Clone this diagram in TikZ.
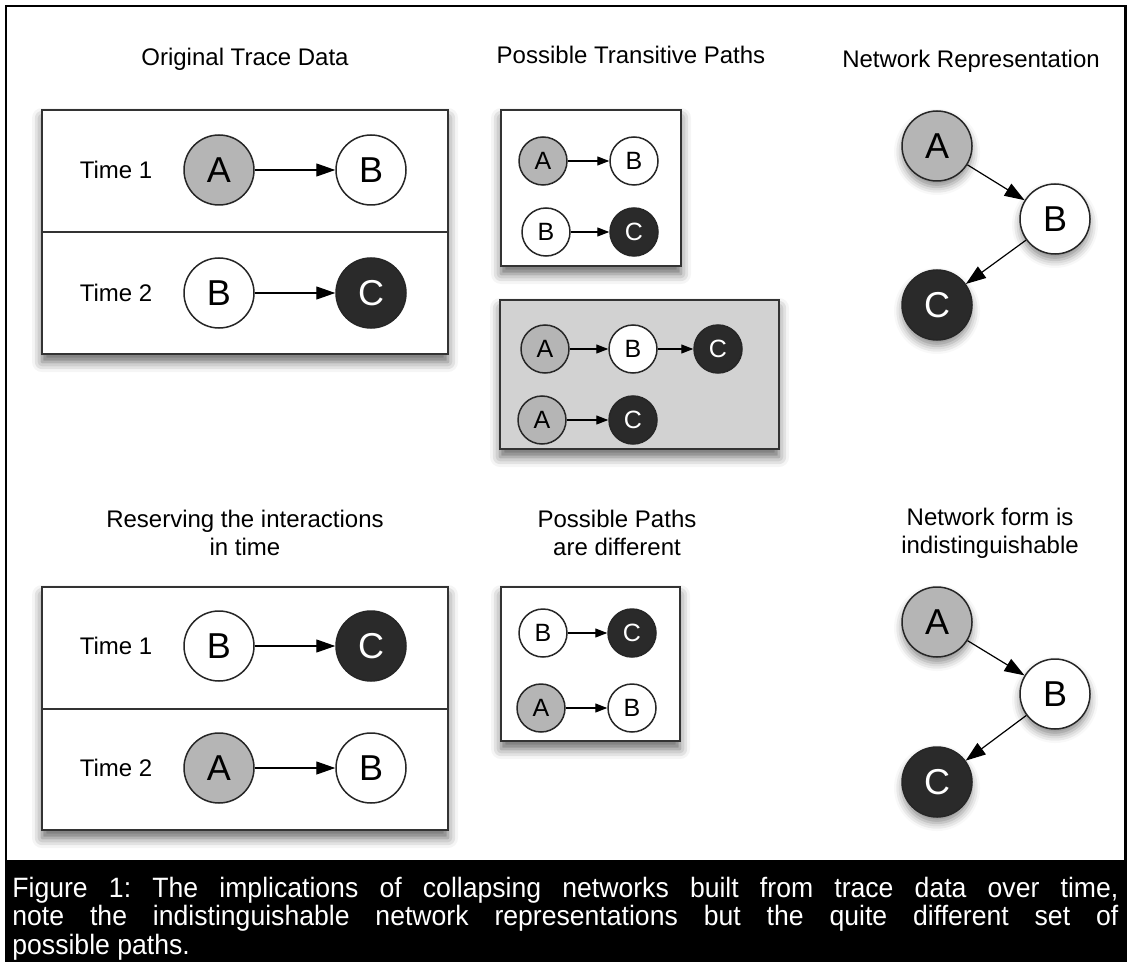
\documentclass[tikz,border=0pt]{standalone}
\usepackage{fontspec}
\setmainfont{Liberation Sans}
\newfontfamily\capfont[FakeStretch=0.95]{Liberation Sans}
\usetikzlibrary{arrows.meta,shadows.blur}
\definecolor{actorgray}{HTML}{B5B5B5}
\definecolor{actordark}{HTML}{2A2A2A}
\definecolor{panelgray}{HTML}{D2D2D2}
\definecolor{edgegray}{HTML}{333333}
\tikzset{
  heading/.style={font=\fontsize{12}{14}\selectfont,align=center},
  timelabel/.style={font=\fontsize{12}{14}\selectfont},
  panel/.style={draw=edgegray,line width=1pt,fill=white,
    blur shadow={shadow xshift=0pt,shadow yshift=-4pt,shadow blur radius=5pt,shadow opacity=60}},
  actor/.style={circle,draw=black!85,line width=0.75pt,inner sep=0pt},
  big/.style={actor,minimum size=35pt,font=\fontsize{18}{18}\selectfont},
  small/.style={actor,minimum size=24pt,font=\fontsize{12.5}{12.5}\selectfont},
  actA/.style={fill=actorgray},
  actB/.style={fill=white},
  actC/.style={fill=actordark,text=white},
  netshadow/.style={blur shadow={shadow xshift=0pt,shadow yshift=-3pt,shadow blur radius=4pt,shadow opacity=45}},
  link/.style={-{Triangle[length=9.5pt,width=6.5pt]},line width=0.6pt},
  slink/.style={-{Triangle[length=6pt,width=4.5pt]},line width=0.6pt},
  nlink/.style={-{Triangle[length=10pt,width=7pt]},line width=0.6pt}
}
\begin{document}
\begin{tikzpicture}[x=0.5pt,y=-0.5pt]
  \useasboundingbox (0,0) rectangle (1127,962);
  % frame and caption band
  \draw[line width=1.25pt] (6,860) -- (6,6) -- (1125.5,6) -- (1125.5,860);
  \fill[black] (5,860) rectangle (1127,962);
  \node[anchor=base west,inner sep=0pt,text width=553pt,align=justify,text=white,
    font=\capfont\fontsize{14}{14.25}\selectfont\frenchspacing] (caption) at (12,897)
    {Figure 1: The implications of collapsing networks built from trace data over time,\linebreak
     note the indistinguishable network representations but the quite different set of\linebreak
     possible paths.};

  % column headings
  \node[heading] (h1) at (245,59) {Original Trace Data};
  \node[heading] (h2) at (631,55) {Possible Transitive Paths};
  \node[heading] (h3) at (971,61) {Network Representation};
  \node[heading] (h4) at (245,533) {Reserving the interactions\\in time};
  \node[heading] (h5) at (617,533) {Possible Paths\\are different};
  \node[heading] (h6) at (990,533) {Network form is\\indistinguishable};

  % trace data, original order
  \node[panel,minimum width=203pt,minimum height=122pt] (trace) at (245,232) {};
  \draw[edgegray,line width=1pt] (trace.west) -- (trace.east);
  \node[timelabel] (t1) at (116,170) {Time 1};
  \node[timelabel] (t2) at (116,293) {Time 2};
  \node[big,actA] (t1a) at (219,170) {A};
  \node[big,actB] (t1b) at (371,170) {B};
  \node[big,actB] (t2b) at (219,293) {B};
  \node[big,actC] (t2c) at (371,293) {C};
  \draw[link] (t1a) -- (t1b);
  \draw[link] (t2b) -- (t2c);

  % transitive paths
  \node[panel,minimum width=90pt,minimum height=78pt] (paths) at (591,188) {};
  \node[small,actA] (p1a) at (543,161) {A};
  \node[small,actB] (p1b) at (634,161) {B};
  \node[small,actB] (p2b) at (546,232) {B};
  \node[small,actC] (p2c) at (634,232) {C};
  \draw[slink] (p1a) -- (p1b);
  \draw[slink] (p2b) -- (p2c);

  \node[panel,fill=panelgray,minimum width=139.5pt,minimum height=74.5pt] (extra) at (639.5,374.5) {};
  \node[small,actA] (e1a) at (545,349) {A};
  \node[small,actB] (e1b) at (633,349) {B};
  \node[small,actC] (e1c) at (718,349) {C};
  \node[small,actA] (e2a) at (542,420) {A};
  \node[small,actC] (e2c) at (633,420) {C};
  \draw[slink] (e1a) -- (e1b);
  \draw[slink] (e1b) -- (e1c);
  \draw[slink] (e2a) -- (e2c);

  % network representation
  \node[big,actA,netshadow] (na) at (937,146) {A};
  \node[big,actB,netshadow] (nb) at (1055,219) {B};
  \node[big,actC,netshadow] (nc) at (937,305) {C};
  \draw[nlink] (na) -- (nb);
  \draw[nlink] (nb) -- (nc);

  % trace data, reversed order
  \node[panel,minimum width=203pt,minimum height=121.5pt] (rtrace) at (245,708.5) {};
  \draw[edgegray,line width=1pt] (rtrace.west) -- (rtrace.east);
  \node[timelabel] (r1) at (116,646) {Time 1};
  \node[timelabel] (r2) at (116,768) {Time 2};
  \node[big,actB] (r1b) at (219,646) {B};
  \node[big,actC] (r1c) at (371,646) {C};
  \node[big,actA] (r2a) at (219,768) {A};
  \node[big,actB] (r2b) at (371,768) {B};
  \draw[link] (r1b) -- (r1c);
  \draw[link] (r2a) -- (r2b);

  % possible paths, reversed
  \node[panel,minimum width=89.5pt,minimum height=77pt] (rpaths) at (590.5,664) {};
  \node[small,actB] (q1b) at (543,633) {B};
  \node[small,actC] (q1c) at (632,633) {C};
  \node[small,actA] (q2a) at (541,708) {A};
  \node[small,actB] (q2b) at (632,708) {B};
  \draw[slink] (q1b) -- (q1c);
  \draw[slink] (q2a) -- (q2b);

  % same network form
  \node[big,actA,netshadow] (ma) at (937,622) {A};
  \node[big,actB,netshadow] (mb) at (1055,694) {B};
  \node[big,actC,netshadow] (mc) at (937,782) {C};
  \draw[nlink] (ma) -- (mb);
  \draw[nlink] (mb) -- (mc);
\end{tikzpicture}
\end{document}
